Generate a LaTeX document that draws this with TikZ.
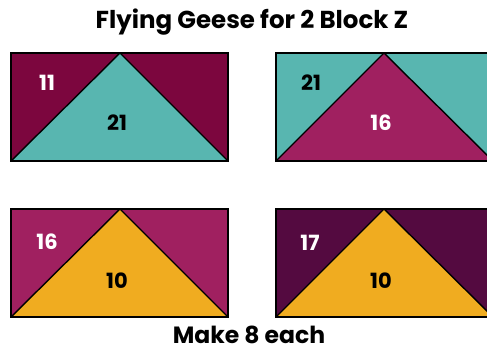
\documentclass[tikz,border=0pt]{standalone}
\usepackage{fontspec}
\setmainfont{Poppins}
\usepackage{tikz}
\definecolor{mymaroon}{RGB}{124, 6, 62}
\definecolor{myteal}{RGB}{88, 182, 176}
\definecolor{mymagenta}{RGB}{160, 32, 96}
\definecolor{mygold}{RGB}{240, 172, 32}
\definecolor{myplum}{RGB}{84, 10, 64}
\tikzstyle{edge} = [black, line width=1.4pt, line join=miter]
\tikzstyle{num} = [font=\bfseries\fontsize{21}{25}\selectfont, inner sep=0pt]
\tikzstyle{heading} = [font=\bfseries\fontsize{24.5}{28}\selectfont, inner sep=0pt, anchor=base]

\begin{document}
\begin{tikzpicture}[x=1pt, y=-1pt]
\useasboundingbox (0,0) rectangle (487,353);
\clip (0,0) rectangle (487,353);

\node[heading] (title) at (252,29) {Flying Geese for 2 Block Z};

% block 11 / 21
\fill[mymaroon] (11,53) rectangle (228,161);
\fill[myteal] (11,161) -- (120,53) -- (228,161) -- cycle;
\draw[edge] (11,53) rectangle (228,161);
\draw[edge] (11,161) -- (120,53) -- (228,161);
\node[num, white] (sideA) at (47,83) {11};
\node[num, black] (gooseA) at (117,123) {21};

% block 21 / 16
\fill[myteal] (276,53) rectangle (493,161);
\fill[mymagenta] (276,161) -- (384,53) -- (493,161) -- cycle;
\draw[edge] (276,53) rectangle (493,161);
\draw[edge] (276,161) -- (384,53) -- (493,161);
\node[num, black] (sideB) at (311,83) {21};
\node[num, white] (gooseB) at (381,123) {16};

% block 16 / 10
\fill[mymagenta] (11,209) rectangle (228,317);
\fill[mygold] (11,317) -- (120,209) -- (228,317) -- cycle;
\draw[edge] (11,209) rectangle (228,317);
\draw[edge] (11,317) -- (120,209) -- (228,317);
\node[num, white] (sideC) at (47,242) {16};
\node[num, black] (gooseC) at (117,281) {10};

% block 17 / 10
\fill[myplum] (276,209) rectangle (493,317);
\fill[mygold] (276,317) -- (384,209) -- (493,317) -- cycle;
\draw[edge] (276,209) rectangle (493,317);
\draw[edge] (276,317) -- (384,209) -- (493,317);
\node[num, white] (sideD) at (310,243) {17};
\node[num, black] (gooseD) at (381,281) {10};

\node[heading, font=\bfseries\fontsize{23.5}{28}\selectfont] (footer) at (249,343) {Make 8 each};
\end{tikzpicture}
\end{document}
